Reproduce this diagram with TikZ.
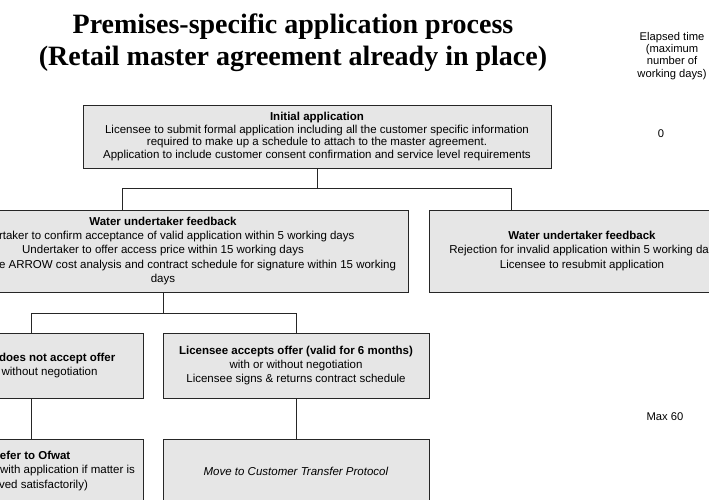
\documentclass[tikz,border=0pt]{standalone}
\usepackage{fontspec}
\setmainfont{Liberation Sans}
\newfontfamily\titlefont{Liberation Serif}
\usepackage{xcolor}
\usepackage{tikz}

\definecolor{boxgray}{RGB}{230,230,230}
\tikzset{
  box/.style={draw=black!85, fill=boxgray, line width=0.8pt, align=center,
    inner sep=0pt, font=\fontsize{11.5}{14.2}\selectfont},
  link/.style={draw=black!85, line width=0.8pt},
  note/.style={align=center, font=\fontsize{11.2}{12.2}\selectfont}
}

\begin{document}
\begin{tikzpicture}[x=1pt,y=-1pt]
  \useasboundingbox (0,0) rectangle (709,500) ;
  \fill[white] (0,0) rectangle (709,500) ;
  \clip (0,0) rectangle (709,500) ;
  %
  \node[align=center, font=\titlefont\bfseries\fontsize{28}{32}\selectfont] (title) at (293,43)
    {Premises-specific application process\\(Retail master agreement already in place)} ;
  \node[note] (elapsed) at (672,56) {Elapsed time\\(maximum\\number of\\working days)} ;
  \node[note] (day0) at (661,134) {0} ;
  \node[note] (day60) at (665,417) {Max 60} ;
  %
  \node[box, minimum width=468pt, minimum height=63pt, font=\fontsize{11.5}{12.8}\selectfont] (init) at (317,136.5)
    {\textbf{Initial application}\\
     Licensee to submit formal application including all the customer specific information\\
     required to make up a schedule to attach to the master agreement.\\
     Application to include customer consent confirmation and service level requirements} ;
  %
  \node[box, minimum width=490pt, minimum height=82pt] (fbok) at (163,251)
    {\textbf{Water undertaker feedback}\\
     \hspace*{2.39em}rtaker to confirm acceptance of valid application within 5 working days\\
     Undertaker to offer access price within 15 working days\\
     \hspace*{6em}e ARROW cost analysis and contract schedule for signature within 15 working\\
     days} ;
  \node[box, minimum width=306pt, minimum height=82pt] (fbno) at (582,251)
    {\textbf{Water undertaker feedback}\\
     Rejection for invalid application within 5 working day\hspace*{1.1em}\\
     Licensee to resubmit application} ;
  %
  \node[box, minimum width=224.6pt, minimum height=65pt] (reject) at (31,365.5)
    {\textbf{\hspace*{4.56em}does not accept offer}\\
     \hspace*{3.22em}without negotiation} ;
  \node[box, minimum width=266pt, minimum height=65pt] (accept) at (296,365.5)
    {\textbf{Licensee accepts offer (valid for 6 months)}\\
     with or without negotiation\\
     Licensee signs \& returns contract schedule} ;
  %
  \node[box, minimum width=224.6pt, minimum height=64pt] (ofwat) at (31,471)
    {\textbf{\hspace*{0.72em}efer to Ofwat}\\
     \hspace*{6.35em}with application if matter is\\
     \hspace*{2.17em}ved satisfactorily)} ;
  \node[box, minimum width=266pt, minimum height=64pt] (transfer) at (296,471)
    {\textit{Move to Customer Transfer Protocol}} ;
  %
  \coordinate (busL) at (122,188.3) ;
  \coordinate (busR) at (511,188.3) ;
  \coordinate (split) at (163,313.3) ;
  %
  \draw[link] (init.south) -- (init.south |- busL) ;
  \draw[link] (busL |- fbok.north) -- (busL) -- (busR) -- (busR |- fbno.north) ;
  %
  \draw[link] (fbok.south) -- (split) ;
  \draw[link] (reject.north) |- (split) -| (accept.north) ;
  %
  \draw[link] (reject) -- (ofwat) ;
  \draw[link] (accept) -- (transfer) ;
\end{tikzpicture}
\end{document}
